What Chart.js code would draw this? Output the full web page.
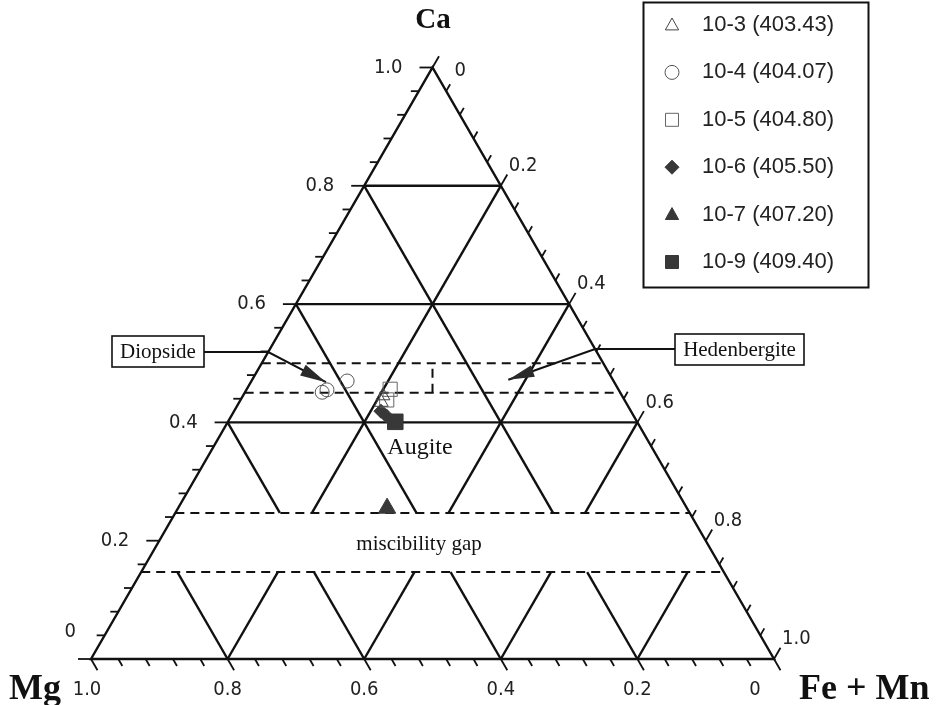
<!DOCTYPE html>
<html>
<head>
<meta charset="utf-8">
<script src="https://cdn.jsdelivr.net/npm/chart.js@4.4.1/dist/chart.umd.min.js"></script>
<style>
  html, body { margin: 0; padding: 0; background: #fff; }
</style>
</head>
<body>
<canvas id="tern" width="937" height="705"></canvas>
<script>
// samples shown in the legend
const sampleNames = ['10-3 (403.43)', '10-4 (404.07)', '10-5 (404.80)', '10-6 (405.50)', '10-7 (407.20)', '10-9 (409.40)'];
// pyroxene compositions (fractions)
const caFrac = [[0.434, 0.445], [0.451, 0.455, 0.470], [0.456, 0.438], [0.419, 0.411], [0.255], [0.401]];
const mgFrac = [[0.358, 0.350], [0.436, 0.427, 0.390], [0.334, 0.348], [0.366, 0.362], [0.439], [0.354]];
const feFrac = [[0.208, 0.205], [0.113, 0.118, 0.140], [0.210, 0.214], [0.215, 0.227], [0.306], [0.245]];

const gridValues = [0.2, 0.4, 0.6, 0.8];
const tickValues = [0, 0.2, 0.4, 0.6, 0.8, 1.0];
const tickLabels = ['0', '0.2', '0.4', '0.6', '0.8', '1.0'];
const minorStep = 0.04;
const gapBounds = [0.147, 0.247];     // Ca limits of the miscibility gap
const augiteBounds = [0.45, 0.5];     // Ca limits of the dashed augite band

// marker looks, one per sample
const markStyle = ['triangle', 'circle', 'rect', 'rectRot', 'triangle', 'rect'];
const markSize = [8, 7, 10, 7, 10, 11];
const markFill = ['rgba(0,0,0,0)', 'rgba(0,0,0,0)', 'rgba(0,0,0,0)', '#383838', '#383838', '#383838'];
const markLine = ['#444', '#555', '#666', '#383838', '#383838', '#383838'];

const R3 = Math.sqrt(3) / 2;

function toXY(ca, mg, fe) {
  const s = ca + mg + fe;
  return { x: fe / s + ca / s / 2, y: ca / s * R3 };
}

function pt(chart, ca, fe) {
  return [chart.scales.x.getPixelForValue(fe + ca / 2), chart.scales.y.getPixelForValue(ca * R3)];
}

function seg(ctx, a, b) {
  ctx.beginPath();
  ctx.moveTo(a[0], a[1]);
  ctx.lineTo(b[0], b[1]);
  ctx.stroke();
}

function arrow(ctx, pts) {
  ctx.lineWidth = 2;
  ctx.beginPath();
  ctx.moveTo(pts[0][0], pts[0][1]);
  for (let i = 1; i < pts.length; i++) ctx.lineTo(pts[i][0], pts[i][1]);
  ctx.stroke();
  const a = pts[pts.length - 2], b = pts[pts.length - 1];
  const ang = Math.atan2(b[1] - a[1], b[0] - a[0]);
  const len = 26, half = 6;
  ctx.beginPath();
  ctx.moveTo(b[0], b[1]);
  ctx.lineTo(b[0] - len * Math.cos(ang) - half * Math.sin(ang), b[1] - len * Math.sin(ang) + half * Math.cos(ang));
  ctx.lineTo(b[0] - len * Math.cos(ang) + half * Math.sin(ang), b[1] - len * Math.sin(ang) - half * Math.cos(ang));
  ctx.closePath();
  ctx.fillStyle = '#2a2a2a';
  ctx.fill();
}

function marker(ctx, style, x, y, r, fill, stroke) {
  ctx.beginPath();
  if (style === 'circle') ctx.arc(x, y, r, 0, 2 * Math.PI);
  else if (style === 'rect') ctx.rect(x - r, y - r, 2 * r, 2 * r);
  else if (style === 'rectRot') {
    ctx.moveTo(x, y - r); ctx.lineTo(x + r, y); ctx.lineTo(x, y + r); ctx.lineTo(x - r, y); ctx.closePath();
  } else {
    ctx.moveTo(x, y - r); ctx.lineTo(x + r * 0.95, y + r * 0.7); ctx.lineTo(x - r * 0.95, y + r * 0.7); ctx.closePath();
  }
  ctx.fillStyle = fill;
  ctx.fill();
  ctx.strokeStyle = stroke;
  ctx.lineWidth = 1;
  ctx.stroke();
}

function textBox(ctx, label, x, y, w, h) {
  ctx.fillStyle = '#fff';
  ctx.fillRect(x, y, w, h);
  ctx.strokeStyle = '#111';
  ctx.lineWidth = 1.6;
  ctx.strokeRect(x, y, w, h);
  ctx.fillStyle = '#111';
  ctx.font = '21px "Liberation Serif", "Times New Roman", serif';
  ctx.textAlign = 'center';
  ctx.textBaseline = 'middle';
  ctx.fillText(label, x + w / 2, y + h / 2 + 1);
}

const ternary = {
  id: 'ternary',
  beforeDatasetsDraw(chart) {
    const ctx = chart.ctx;
    const P = (ca, fe) => pt(chart, ca, fe);
    ctx.save();
    ctx.strokeStyle = '#111';
    ctx.lineWidth = 2.4;

    // outline
    ctx.beginPath();
    const a = P(0, 0), b = P(0, 1), c = P(1, 0);
    ctx.moveTo(a[0], a[1]); ctx.lineTo(b[0], b[1]); ctx.lineTo(c[0], c[1]); ctx.closePath();
    ctx.stroke();

    // constant Ca
    gridValues.forEach(v => {
      if (v < gapBounds[0] || v > gapBounds[1]) seg(ctx, P(v, 0), P(v, 1 - v));
    });
    // constant Fe and constant Mg, broken across the miscibility gap
    const pieces = [[0, gapBounds[0]], [gapBounds[1], 1]];
    gridValues.forEach(v => {
      pieces.forEach(([c0, c1]) => {
        const top = Math.min(c1, 1 - v);
        if (top <= c0) return;
        seg(ctx, P(c0, v), P(top, v));
        seg(ctx, P(c0, 1 - v - c0), P(top, 1 - v - top));
      });
    });

    // edge ticks
    ctx.lineWidth = 1.8;
    const n = Math.round(1 / minorStep);
    for (let i = 0; i <= n; i++) {
      const v = i * minorStep, len = i % 5 === 0 ? 13 : 8;
      let p = P(v, 0);
      seg(ctx, p, [p[0] - len, p[1]]);
      p = P(0, 1 - v);
      seg(ctx, p, [p[0] + len * 0.5, p[1] + len * R3]);
      p = P(1 - v, v);
      seg(ctx, p, [p[0] + len * 0.5, p[1] - len * R3]);
    }

    // dashed boundaries
    ctx.lineWidth = 2;
    ctx.setLineDash([9, 6]);
    [...gapBounds, ...augiteBounds].forEach(v => seg(ctx, P(v, 0), P(v, 1 - v)));
    seg(ctx, P(augiteBounds[0], (1 - augiteBounds[0]) / 2), P(augiteBounds[1], (1 - augiteBounds[1]) / 2));
    ctx.setLineDash([]);

    // end-member pointers
    ctx.strokeStyle = '#111';
    arrow(ctx, [[204, 352], P(0.519, 0), P(0.468, 0.110)]);
    arrow(ctx, [[675, 349], P(0.524, 0.476), P(0.472, 0.375)]);
    ctx.restore();
  },
  afterDraw(chart) {
    const ctx = chart.ctx;
    const P = (ca, fe) => pt(chart, ca, fe);
    ctx.save();

    textBox(ctx, 'Diopside', 112, 336, 92, 31);
    textBox(ctx, 'Hedenbergite', 675, 334, 129, 31);

    // tick labels
    ctx.fillStyle = '#222';
    ctx.font = '20px "Liberation Sans Narrow", "Arial Narrow", "DejaVu Sans Condensed", sans-serif';
    ctx.textBaseline = 'middle';
    tickValues.forEach((v, i) => {
      const t = tickLabels[i];
      // Ca, left edge
      let p = P(v, 0);
      ctx.textAlign = 'right';
      if (v === 0) ctx.fillText(t, p[0] - 15, p[1] - 27);
      else ctx.fillText(t, p[0] - 30, p[1]);
      // Fe + Mn, right edge
      p = P(1 - v, v);
      ctx.textAlign = 'left';
      if (v === 0) ctx.fillText(t, p[0] + 22, p[1] + 3);
      else ctx.fillText(t, p[0] + 8, p[1] - 20);
      // Mg, base
      p = P(0, 1 - v);
      ctx.textAlign = 'center';
      let dx = 0;
      if (v === 1) dx = -4;
      if (v === 0) dx = -19;
      ctx.fillText(t, p[0] + dx, 690);
    });

    // corner and field names
    ctx.fillStyle = '#111';
    ctx.font = 'bold 29px "Liberation Serif", "Times New Roman", serif';
    ctx.textAlign = 'center';
    ctx.fillText('Ca', 433, 21);
    ctx.font = 'bold 36px "Liberation Serif", "Times New Roman", serif';
    ctx.textAlign = 'left';
    ctx.fillText('Mg', 9, 690);
    ctx.fillText('Fe + Mn', 799, 690);
    ctx.font = '24px "Liberation Serif", "Times New Roman", serif';
    ctx.textAlign = 'center';
    ctx.fillText('Augite', 420, 448);
    ctx.font = '21px "Liberation Serif", "Times New Roman", serif';
    ctx.fillText('miscibility gap', 419, 544);

    // legend
    ctx.strokeStyle = '#111';
    ctx.lineWidth = 2;
    ctx.strokeRect(643.5, 2.5, 225, 285);
    ctx.font = '22px "Liberation Sans", Arial, sans-serif';
    ctx.textAlign = 'left';
    sampleNames.forEach((name, i) => {
      const y = 25 + i * 47.4;
      const r = markStyle[i] === 'rect' ? 6.5 : 7;
      marker(ctx, markStyle[i], 672, y, r, markFill[i], markLine[i]);
      ctx.fillStyle = '#222';
      ctx.fillText(name, 702, y);
    });
    ctx.restore();
  }
};

new Chart(document.getElementById('tern'), {
  type: 'scatter',
  data: {
    datasets: sampleNames.map((name, i) => ({
      label: name,
      data: caFrac[i].map((ca, j) => toXY(ca, mgFrac[i][j], feFrac[i][j])),
      pointStyle: markStyle[i],
      pointRadius: markSize[i],
      backgroundColor: markFill[i],
      borderColor: markLine[i],
      borderWidth: 1
    }))
  },
  options: {
    responsive: false,
    animation: false,
    events: [],
    layout: { padding: { left: 91, right: 163, top: 67.5, bottom: 46 } },
    scales: {
      x: { type: 'linear', min: 0, max: 1, display: false },
      y: { type: 'linear', min: 0, max: R3, display: false }
    },
    plugins: {
      legend: { display: false },
      tooltip: { enabled: false }
    }
  },
  plugins: [ternary]
});
</script>
</body>
</html>
